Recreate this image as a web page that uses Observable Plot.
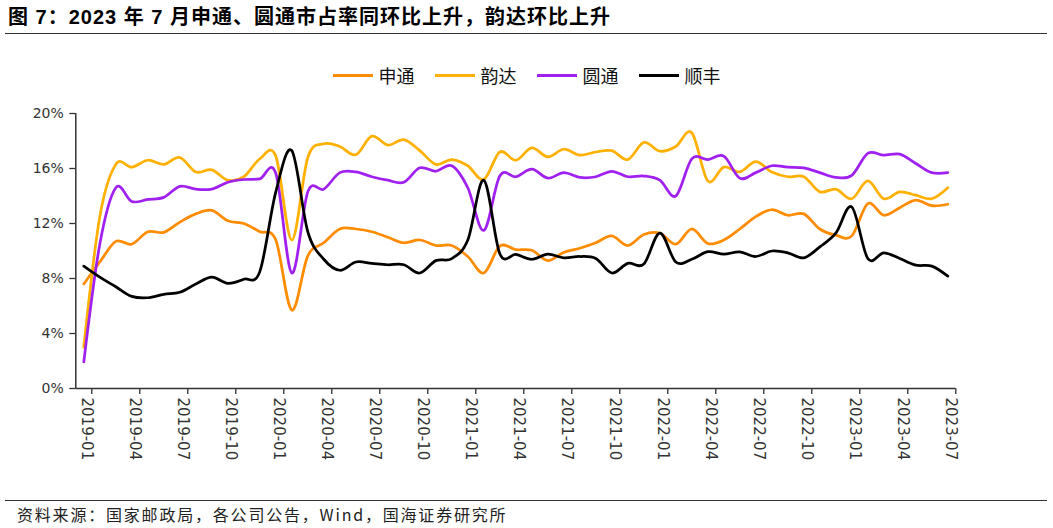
<!DOCTYPE html>
<html>
<head>
<meta charset="utf-8">
<script src="https://cdn.jsdelivr.net/npm/d3@7"></script>
<script src="https://cdn.jsdelivr.net/npm/@observablehq/plot@0.6"></script>
<style>
  html, body { margin: 0; padding: 0; background: #fff; }
  body { width: 1053px; height: 528px; position: relative; overflow: hidden; font-family: "Liberation Sans", "Noto Sans CJK SC", sans-serif; }
  #title { position: absolute; left: 8px; top: 4px; font-size: 20px; font-weight: bold; letter-spacing: 1px; color: #000; white-space: nowrap; line-height: 26px; }
  #rule1 { position: absolute; left: 5px; right: 6px; top: 33px; height: 0; border-top: 1.5px solid #333; }
  #legend { position: absolute; left: 0; top: 62px; width: 1053px; display: flex; justify-content: center; gap: 20px; font-family: "Noto Sans CJK SC", sans-serif; font-size: 18px; color: #111; line-height: 26px; }
  .item { display: flex; align-items: center; }
  .swatch { width: 40px; height: 3px; margin-right: 6px; }
  #chart { position: absolute; left: 0; top: 95px; }
  #rule2 { position: absolute; left: 5px; right: 6px; top: 500px; height: 0; border-top: 1.5px solid #333; }
  #source { position: absolute; left: 17px; top: 503px; font-family: "Noto Sans CJK SC", sans-serif; font-size: 16px; letter-spacing: 1.8px; color: #222; white-space: nowrap; line-height: 22px; }
</style>
</head>
<body>
<div id="title">图 7：2023 年 7 月申通、圆通市占率同环比上升，韵达环比上升</div>
<div id="rule1"></div>
<div id="legend"></div>
<div id="chart"></div>
<div id="rule2"></div>
<div id="source">资料来源：国家邮政局，各公司公告，Wind，国海证券研究所</div>
<script>
// ---- data ----
const months = [
  "2019-01","2019-02","2019-03","2019-04","2019-05","2019-06","2019-07","2019-08","2019-09","2019-10","2019-11","2019-12",
  "2020-01","2020-02","2020-03","2020-04","2020-05","2020-06","2020-07","2020-08","2020-09","2020-10","2020-11","2020-12",
  "2021-01","2021-02","2021-03","2021-04","2021-05","2021-06","2021-07","2021-08","2021-09","2021-10","2021-11","2021-12",
  "2022-01","2022-02","2022-03","2022-04","2022-05","2022-06","2022-07","2022-08","2022-09","2022-10","2022-11","2022-12",
  "2023-01","2023-02","2023-03","2023-04","2023-05","2023-06","2023-07"
];
const tickLabels = ["2019-01","2019-04","2019-07","2019-10","2020-01","2020-04","2020-07","2020-10","2021-01","2021-04","2021-07","2021-10","2022-01","2022-04","2022-07","2022-10","2023-01","2023-04","2023-07"];
const yTicks = [0, 4, 8, 12, 16, 20];
const seriesNames = ["申通", "韵达", "圆通", "顺丰"];
const seriesColors = ["#FF8C00", "#FFB000", "#A020F0", "#000000"];

const shentong = [7.6,9.2,10.7,10.5,11.4,11.35,12.1,12.7,12.95,12.2,12.0,11.4,
  10.8,5.7,9.65,10.6,11.6,11.6,11.4,11.0,10.6,10.8,10.4,10.4,
  9.6,8.4,10.35,10.1,10.05,9.3,9.9,10.2,10.6,11.1,10.4,11.2,
  11.3,10.5,11.6,10.55,10.8,11.6,12.5,13.0,12.6,12.7,11.6,11.15,
  11.1,13.45,12.6,13.15,13.7,13.3,13.4];
const yunda = [3.0,12.5,16.3,16.1,16.6,16.3,16.8,15.75,15.9,15.15,15.4,16.7,
  16.9,10.8,16.8,17.8,17.6,17.0,18.35,17.7,18.1,17.3,16.3,16.65,
  16.2,15.2,17.2,16.6,17.5,16.85,17.4,16.97,17.2,17.3,16.65,17.9,
  17.26,17.6,18.6,15.1,16.1,15.75,16.5,15.75,15.4,15.4,14.3,14.5,
  13.8,15.1,13.8,14.3,14.06,13.8,14.6];
const yuantong = [1.94,10.5,14.6,13.6,13.75,13.9,14.7,14.5,14.5,15.0,15.2,15.25,
  15.65,8.4,14.3,14.5,15.7,15.75,15.4,15.15,15.0,16.05,15.8,16.2,
  14.6,11.5,15.45,15.4,15.95,15.3,15.7,15.35,15.4,15.8,15.4,15.45,
  15.15,14.0,16.7,16.65,16.9,15.3,15.7,16.2,16.1,16.05,15.7,15.35,
  15.5,17.1,16.97,17.04,16.36,15.7,15.7];
const shunfeng = [8.9,8.1,7.4,6.7,6.6,6.85,7.0,7.6,8.1,7.65,7.95,8.5,
  14.3,17.3,11.4,9.4,8.6,9.2,9.1,9.0,9.0,8.4,9.3,9.45,
  10.8,15.15,9.8,9.75,9.4,9.77,9.5,9.6,9.45,8.4,9.1,9.05,
  11.3,9.2,9.4,9.95,9.77,9.94,9.6,10.0,9.87,9.5,10.3,11.3,
  13.2,9.45,9.87,9.45,8.97,8.9,8.17];

// ---- build table ----
const seriesValues = [shentong, yunda, yuantong, shunfeng];
const rows = [];
seriesNames.forEach((name, s) => {
  seriesValues[s].forEach((v, i) => rows.push({name, i, month: months[i], v}));
});
const labelIdx = tickLabels.map(l => months.indexOf(l));
const tickPos = labelIdx.map(i => i + 0.5);

// ---- legend ----
const legend = document.getElementById("legend");
seriesNames.forEach((n, k) => {
  const it = document.createElement("div");
  it.className = "item";
  it.innerHTML = `<span class="swatch" style="background:${seriesColors[k]}"></span><span>${n}</span>`;
  legend.appendChild(it);
});

const axisColor = "#333";
const chart = Plot.plot({
  width: 1053,
  height: 400,
  marginLeft: 75.3,
  marginRight: 97.7,
  marginTop: 18,
  marginBottom: 107,
  x: {domain: [-0.5, months.length - 0.5], axis: null},
  y: {domain: [0, 20], axis: null},
  color: {domain: seriesNames, range: seriesColors},
  style: {fontFamily: "'DejaVu Sans', 'Liberation Sans', sans-serif", background: "transparent", overflow: "visible"},
  marks: [
    Plot.axisY({ticks: yTicks, tickFormat: d => d + "%", label: null, tickSize: 6, tickPadding: 6, fontSize: 14, color: axisColor, stroke: axisColor, strokeWidth: 1.3}),
    Plot.axisX({ticks: tickPos, tickSize: 6, tickFormat: () => "", label: null, stroke: axisColor, strokeWidth: 1.3}),
    Plot.text(labelIdx, {x: d => d, frameAnchor: "bottom", text: d => months[d], rotate: 90, textAnchor: "start", lineAnchor: "middle", dy: 9, dx: 3, fontSize: 15, fill: axisColor}),
    Plot.ruleY([0], {stroke: axisColor, strokeWidth: 1.5}),
    Plot.ruleX([-0.5], {stroke: axisColor, strokeWidth: 1.5}),
    Plot.line(rows, {x: "i", y: "v", z: "name", stroke: "name", curve: "cardinal", tension: 0, strokeWidth: 2.75, strokeLinejoin: "round", strokeLinecap: "round"})
  ]
});
document.getElementById("chart").appendChild(chart);
</script>
</body>
</html>
